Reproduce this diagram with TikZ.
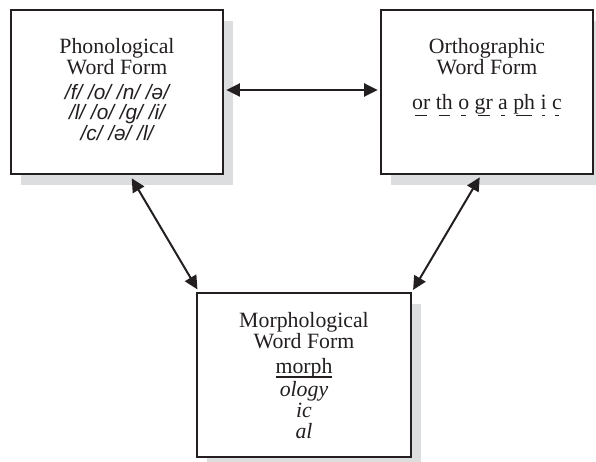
\documentclass[tikz,border=0pt]{standalone}
\usepackage{fontspec}
\setmainfont{Liberation Serif}
\newfontfamily\ipafont{Liberation Sans}
\usetikzlibrary{arrows.meta,shadows}

\definecolor{ink}{HTML}{231F20}
\definecolor{shade}{HTML}{DCDDDF}

% grapheme with a short dash beneath it (inset on both sides)
\newcommand\grapheme[2][0.14em]{\leavevmode\setbox0=\hbox{#2}%
  \rlap{\kern#1\rule[-0.33em]{\dimexpr\wd0-#1-#1\relax}{0.07em}}\box0\relax}
% word underlined over its full width, close to the baseline
\newcommand\wordline[1]{\leavevmode\setbox0=\hbox{#1}%
  \rlap{\rule[-0.19em]{\wd0}{0.07em}}\box0\relax}
\newcommand\titlesize{\fontsize{21.8pt}{21pt}\selectfont}

\tikzset{
  wordbox/.style={draw=ink, line width=2.6pt, fill=white, text=ink,
    inner sep=0pt, minimum width=212pt, minimum height=164pt,
    general shadow={draw=none, fill=shade, shadow xshift=10pt, shadow yshift=-11pt}},
  link/.style={draw=ink, line width=2pt,
    {Triangle[length=13.5pt,width=13pt]}-{Triangle[length=13.5pt,width=13pt]}}
}

\begin{document}
\begin{tikzpicture}[x=1pt,y=1pt]
\useasboundingbox (0,0) rectangle (596,461);

\node[wordbox] (pho) at (117,369) {\parbox[c][164pt][t]{206pt}{\centering
  \lineskiplimit=-\maxdimen
  \vspace*{28pt}{\titlesize Phonological\\Word Form\par}
  \vspace{4.5pt}{\ipafont\itshape\fontsize{20.8pt}{20.5pt}\selectfont
    /f/ /o/ /n/ /ə/\\/l/ /o/ /g/ /i/\\/c/ /ə/ /l/\par}}};

\node[wordbox] (ort) at (487,369) {\parbox[c][164pt][t]{206pt}{\centering
  \lineskiplimit=-\maxdimen
  \vspace*{28pt}{\titlesize Orthographic\\Word Form\par}
  \vspace{14pt}{\titlesize \grapheme{or} \grapheme{th} \grapheme{o}
    \grapheme{gr} \grapheme{a} \grapheme{ph} \grapheme[0.07em]{i}
    \grapheme{c}\par}}};

\node[wordbox, minimum width=214pt] (mor) at (304,86) {\parbox[c][164pt][t]{206pt}{\centering
  \lineskiplimit=-\maxdimen
  \vspace*{19.5pt}{\titlesize Morphological\\Word Form\par}
  \vspace{4pt}{\titlesize \wordline{morph}\par}
  \vspace{1.5pt}{\titlesize\itshape ology\\ic\\al\par}}};

\draw[link] ([shift={(2pt,2pt)}]pho.east) -- ([shift={(-2pt,2pt)}]ort.west);
\draw[link] ([shift={(122pt,-3pt)}]pho.south west) -- ([shift={(1.7pt,2.3pt)}]mor.north west);
\draw[link] ([shift={(100pt,-2pt)}]ort.south west) -- ([shift={(0.8pt,1.8pt)}]mor.north east);
\end{tikzpicture}
\end{document}
